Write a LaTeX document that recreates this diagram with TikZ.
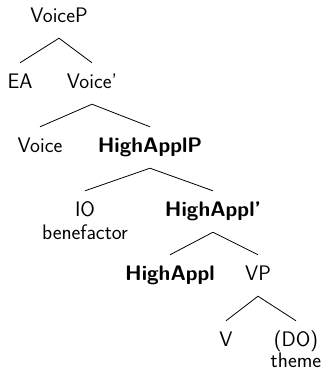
\documentclass[tikz,border=0pt]{standalone}
\usepackage{fontspec}
\begin{document}
\begin{tikzpicture}[x=1pt,y=-1pt,
  lab/.style={anchor=base,inner xsep=0pt,inner ysep=11pt,text height=14pt,text depth=5pt,
    font=\sffamily\fontsize{21}{23}\selectfont},
  sub/.style={anchor=base,inner sep=0pt,font=\sffamily\fontsize{21}{23}\selectfont},
  br/.style={line width=0.8pt}]
\useasboundingbox (0,0) rectangle (325,370);
\node[lab] (voicep) at (59,22) {VoiceP};
\node[lab] (ea) at (20,88) {EA};
\node[lab] (voicebar) at (92,88) {Voice'};
\node[lab] (voice) at (40,152) {Voice};
\node[lab] (happlp) at (150,152) {\bfseries HighApplP};
\node[lab] (io) at (85,216) {IO};
\node[sub] (ben) at (85,239) {benefactor};
\node[lab] (happlbar) at (213,216) {\bfseries HighAppl'};
\node[lab] (happl) at (170,280) {\bfseries HighAppl};
\node[lab] (vp) at (258,280) {VP};
\node[lab] (v) at (226,346) {V};
\node[lab] (do) at (296,346) {(DO)};
\node[sub] (theme) at (296,367) {theme};
\draw[br] (ea.north) -- (voicep.south) -- (voicebar.north);
\draw[br] (voice.north) -- (voicebar.south) -- (happlp.north);
\draw[br] (io.north) -- (happlp.south) -- (happlbar.north);
\draw[br] (happl.north) -- (happlbar.south) -- (vp.north);
\draw[br] (v.north) -- (vp.south) -- (do.north);
\end{tikzpicture}
\end{document}
